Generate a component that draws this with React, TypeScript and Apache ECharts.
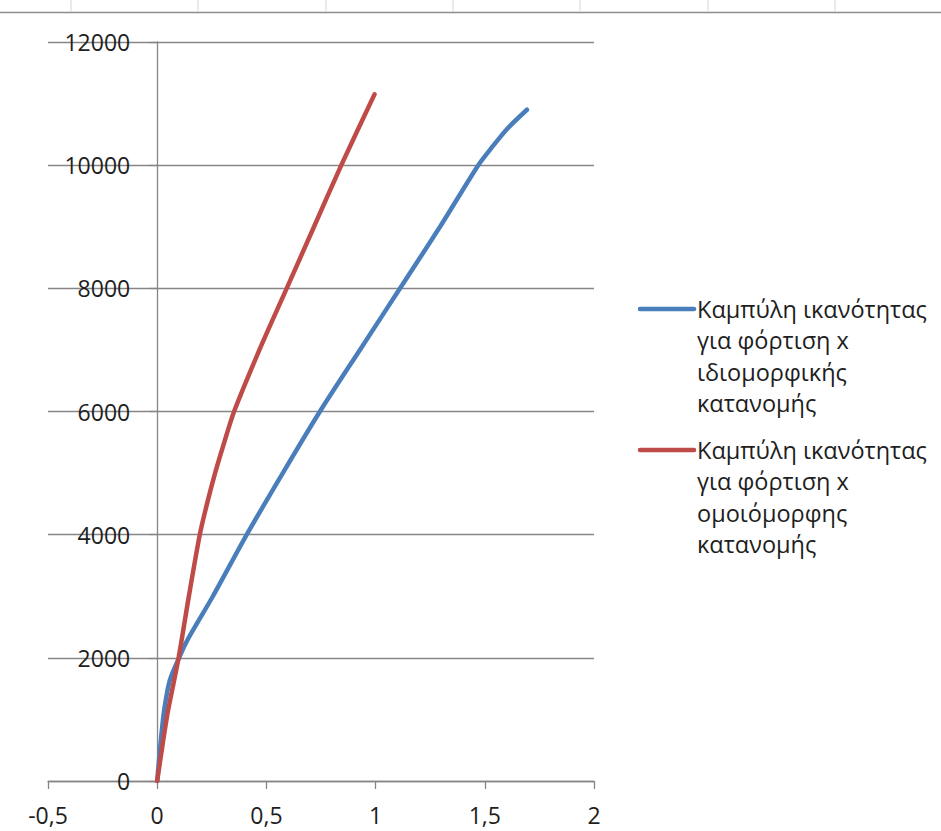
import React, { useEffect, useRef } from "react";
import * as echarts from "echarts";

// Tick values
const xMin = -0.5;
const xMax = 2;
const xStep = 0.5;
const yMin = 0;
const yMax = 12000;
const yStep = 2000;

// Series names (legend text, wrapped as in the reference)
const blueName = "Καμπύλη ικανότητας για φόρτιση x ιδιομορφικής κατανομής";
const redName = "Καμπύλη ικανότητας για φόρτιση x ομοιόμορφης κατανομής";
const blueLegendLines = ["Καμπύλη ικανότητας", "για φόρτιση x", "ιδιομορφικής", "κατανομής"];
const redLegendLines = ["Καμπύλη ικανότητας", "για φόρτιση x", "ομοιόμορφης", "κατανομής"];

// Blue curve (modal load distribution)
const blueX = [0, 0.015, 0.032, 0.058, 0.1, 0.14, 0.255, 0.41, 0.575, 0.745, 0.928, 1.112, 1.295, 1.47, 1.535, 1.605, 1.693];
const blueY = [0, 600, 1150, 1640, 2000, 2300, 3000, 4000, 5000, 6000, 7000, 8000, 9000, 10000, 10300, 10600, 10900];

// Red curve (uniform load distribution)
const redX = [0, 0.025, 0.05, 0.098, 0.145, 0.195, 0.228, 0.265, 0.307, 0.352, 0.468, 0.593, 0.718, 0.843, 0.995];
const redY = [0, 600, 1150, 2000, 3000, 4000, 4500, 5000, 5500, 6000, 7000, 8000, 9000, 10000, 11150];

const BLUE = "#4A7EBB";
const RED = "#BE4B48";
const AXIS = "#868686";
const FONT = '"Open Sans", "Noto Sans", sans-serif';

export default function App() {
  const ref = useRef<HTMLDivElement>(null);

  useEffect(() => {
    if (!ref.current) return;
    const chart = echarts.init(ref.current, undefined, { renderer: "svg" });

    const bluePts = blueX.map((x, i) => [x, blueY[i]]);
    const redPts = redX.map((x, i) => [x, redY[i]]);

    const gridLeft = 48;
    const gridRight = 347;
    const plotW = 941 - gridLeft - gridRight;
    // place the y axis at x = 0 (labels included)
    const yOffset = -((0 - xMin) / (xMax - xMin)) * plotW;

    const topTicks = [71, 198, 326, 453, 580, 708, 835];

    const option: any = {
      animation: false,
      backgroundColor: "#ffffff",
      grid: {
        left: gridLeft,
        right: gridRight,
        top: 42,
        bottom: 50,
        containLabel: false,
        outerBoundsMode: "none",
      },
      xAxis: {
        type: "value",
        min: xMin,
        max: xMax,
        interval: xStep,
        axisLine: { show: true, onZero: true, lineStyle: { color: AXIS, width: 1.3 } },
        axisTick: { show: true, length: 8, lineStyle: { color: AXIS, width: 1.3 } },
        axisLabel: {
          fontSize: 23,
          fontFamily: FONT,
          color: "#1e1e1e",
          margin: 22,
          formatter: (v: number) => String(v).replace(".", ","),
        },
        splitLine: { show: false },
      },
      yAxis: {
        type: "value",
        min: yMin,
        max: yMax,
        interval: yStep,
        offset: yOffset,
        axisLine: { show: true, onZero: false, lineStyle: { color: AXIS, width: 1.3 } },
        axisTick: { show: true, length: 8, lineStyle: { color: AXIS, width: 1.3 } },
        axisLabel: {
          fontSize: 23,
          fontFamily: FONT,
          color: "#1e1e1e",
          margin: 27,
          formatter: (v: number) => String(v),
        },
        splitLine: { show: true, lineStyle: { color: AXIS, width: 1.3 } },
      },
      series: [
        {
          name: blueName,
          type: "line",
          data: bluePts,
          smooth: 0.25,
          symbol: "none",
          lineStyle: { color: BLUE, width: 4.5, cap: "round" },
          itemStyle: { color: BLUE },
          z: 3,
        },
        {
          name: redName,
          type: "line",
          data: redPts,
          smooth: 0.25,
          symbol: "none",
          lineStyle: { color: RED, width: 4.5, cap: "round" },
          itemStyle: { color: RED },
          z: 4,
        },
      ],
      graphic: [
        {
          type: "line",
          shape: { x1: 0, y1: 12.5, x2: 941, y2: 12.5 },
          style: { stroke: "#8c8c8c", lineWidth: 1.5 },
          silent: true,
        },
        ...topTicks.map((x) => ({
          type: "line",
          shape: { x1: x, y1: 0, x2: x, y2: 12 },
          style: { stroke: "#d6d6d6", lineWidth: 1 },
          silent: true,
        })),
        {
          type: "line",
          shape: { x1: 640, y1: 309, x2: 694, y2: 309 },
          style: { stroke: BLUE, lineWidth: 4.5, lineCap: "round" },
        },
        {
          type: "text",
          left: 697,
          top: 293,
          style: {
            text: blueLegendLines.join("\n"),
            fontSize: 23.5,
            fontFamily: FONT,
            lineHeight: 31.5,
            fill: "#1e1e1e",
          },
        },
        {
          type: "line",
          shape: { x1: 640, y1: 450, x2: 694, y2: 450 },
          style: { stroke: RED, lineWidth: 4.5, lineCap: "round" },
        },
        {
          type: "text",
          left: 697,
          top: 434,
          style: {
            text: redLegendLines.join("\n"),
            fontSize: 23.5,
            fontFamily: FONT,
            lineHeight: 31.5,
            fill: "#1e1e1e",
          },
        },
      ],
    };

    chart.setOption(option);
    return () => chart.dispose();
  }, []);

  return (
    <div
      ref={ref}
      style={{ position: "fixed", left: 0, top: 0, width: 941, height: 831, background: "#fff" }}
    />
  );
}
